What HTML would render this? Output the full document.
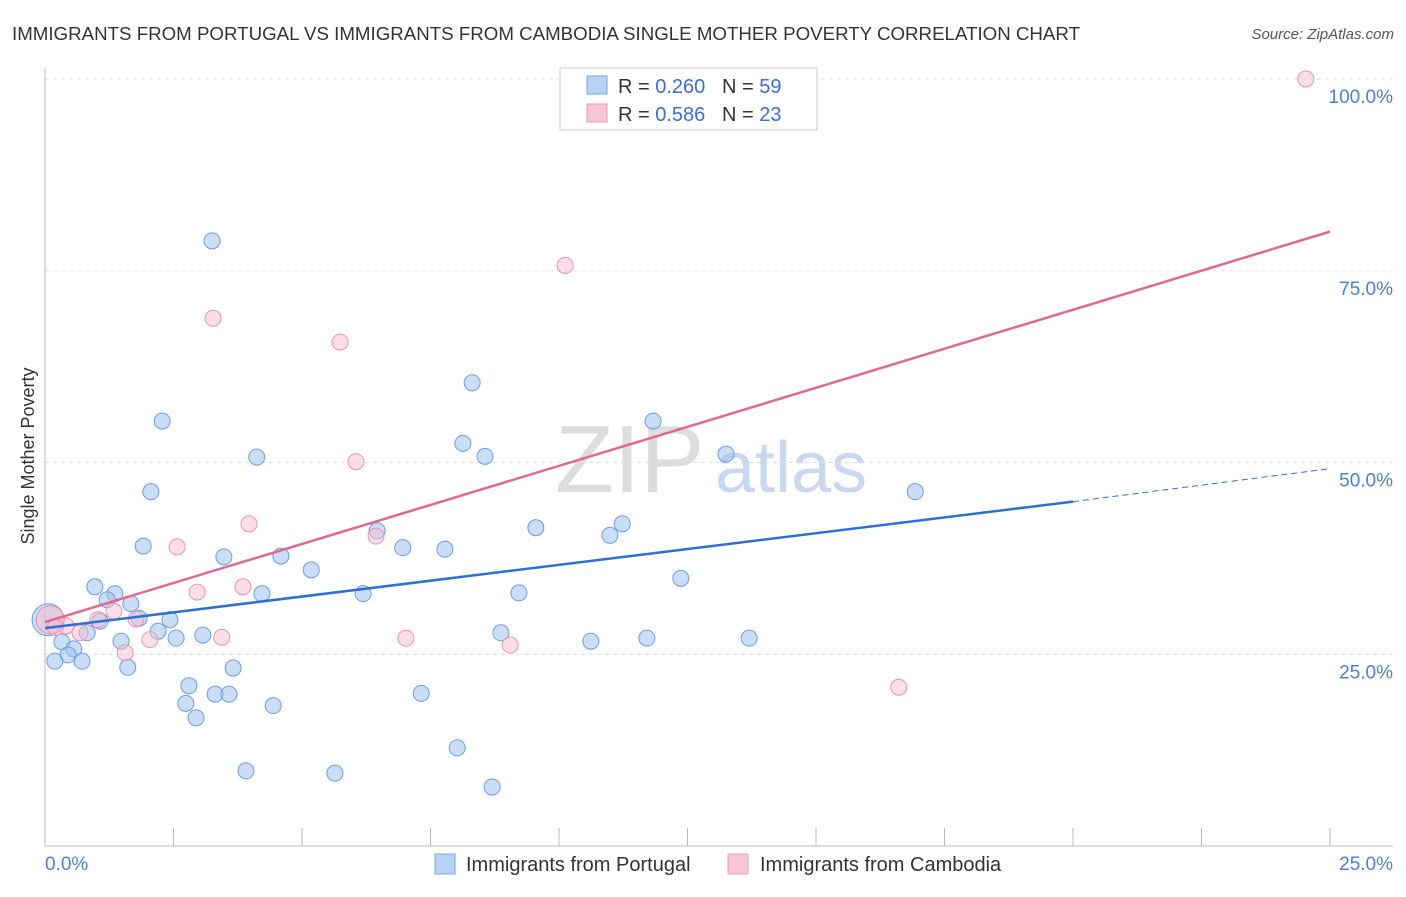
<!DOCTYPE html>
<html><head><meta charset="utf-8"><style>
body{margin:0;background:#fff;font-family:"Liberation Sans",sans-serif;}
svg text{font-family:"Liberation Sans",sans-serif;}
</style></head><body>
<svg id="chart" width="1406" height="892">
<text x="12" y="40" font-size="18" fill="#333" textLength="1068" lengthAdjust="spacingAndGlyphs">IMMIGRANTS FROM PORTUGAL VS IMMIGRANTS FROM CAMBODIA SINGLE MOTHER POVERTY CORRELATION CHART</text>
<text x="1394" y="39" font-size="15" fill="#555" font-style="italic" text-anchor="end">Source: ZipAtlas.com</text>
<text x="34" y="456" font-size="18" fill="#333" transform="rotate(-90 34 456)" text-anchor="middle">Single Mother Poverty</text>
<text x="555" y="492" font-size="96" fill="#ddd" font-family="Liberation Serif">ZIP</text>
<text x="715" y="492" font-size="72" fill="#c8d8f0">atlas</text>
<g id="grid"></g><g id="axes"></g><g id="marks"></g>
<g>
<rect x="560" y="68" width="257" height="62" fill="#fff" stroke="#ccc"/>
<rect x="587" y="76" width="20" height="18" fill="#b8d2f5" stroke="#7aa5e0"/>
<rect x="587" y="104" width="20" height="18" fill="#f9c6d6" stroke="#e99ab3"/>
<text x="618" y="93" font-size="20" fill="#333">R = <tspan fill="#3a6fd0">0.260</tspan>&#160;&#160;&#160;N = <tspan fill="#3a6fd0">59</tspan></text>
<text x="618" y="121" font-size="20" fill="#333">R = <tspan fill="#3a6fd0">0.586</tspan>&#160;&#160;&#160;N = <tspan fill="#3a6fd0">23</tspan></text>
</g>
<g>
<rect x="435" y="854" width="20" height="20" fill="#b8d2f5" stroke="#7aa5e0"/>
<text x="466" y="871" font-size="20" fill="#333">Immigrants from Portugal</text>
<rect x="728" y="854" width="20" height="20" fill="#f9c6d6" stroke="#e99ab3"/>
<text x="760" y="871" font-size="20" fill="#333">Immigrants from Cambodia</text>
</g>
</svg>
<script>
const blueX=[3.25,2.28,8.31,8.13,8.56,11.83,13.25,16.93,2.06,4.12,1.91,3.48,4.59,5.18,6.46,6.96,7.78,9.55,10.99,11.23,12.37,9.22,6.19,4.22,0.97,1.36,1.21,1.67,1.83,2.43,1.07,0.82,2.20,2.55,3.07,1.48,0.33,0.56,0.45,0.72,0.19,1.61,3.66,2.80,2.74,3.31,3.58,4.44,2.94,7.32,8.87,10.62,11.71,13.70,8.02,3.91,5.64,8.70,0.06];
const blueY=[78.9,55.4,60.4,52.5,50.8,55.4,51.1,46.2,46.2,50.7,39.1,37.7,37.8,36.0,41.1,38.9,38.7,41.5,40.5,42.0,34.9,33.0,32.9,32.9,33.8,32.9,32.1,31.6,29.7,29.5,29.3,27.8,28.0,27.1,27.5,26.7,26.6,25.7,24.9,24.1,24.1,23.3,23.2,20.9,18.6,19.8,19.8,18.3,16.7,19.9,27.8,26.7,27.1,27.1,12.8,9.8,9.5,7.7,29.5];
const pinkX=[24.53,10.12,3.27,5.74,6.05,3.97,2.57,6.44,3.85,2.96,1.34,1.03,0.41,0.68,1.77,2.04,3.44,7.02,9.05,1.56,16.61,0.1,0.2];
const pinkY=[100.0,75.7,68.8,65.7,50.1,42.0,39.0,40.4,33.8,33.1,30.6,29.5,28.7,27.8,29.6,26.9,27.2,27.1,26.2,25.2,20.7,29.5,28.5];
const yTicks=[25,50,75,100];
const yTickLabels=["25.0%","50.0%","75.0%","100.0%"];
const blueTrend=[28.4,44.9]; // at x=0 and x=20
const blueTrendEnd=49.2; // at x=25
const pinkTrend=[29.2,80.1]; // at x=0 and x=25
const ns="http://www.w3.org/2000/svg";
const X=v=>45+v*51.4, Y=v=>846-v*7.67;
function mk(p,tag,a){const e=document.createElementNS(ns,tag);for(const k in a)e.setAttribute(k,a[k]);p.appendChild(e);return e;}
const grid=document.getElementById('grid'),axes=document.getElementById('axes'),marks=document.getElementById('marks');
yTicks.forEach((t,i)=>{
 const l=mk(grid,'line',{x1:45,x2:1393,y1:Y(t),y2:Y(t),stroke:'#ddd','stroke-dasharray':'4,4'});
 
 
 const tx=mk(axes,'text',{x:1393,y:Y(t)+24,'font-size':19,fill:'#4a7fd8','text-anchor':'end'});
 tx.textContent=yTickLabels[i];
 
 
});
mk(axes,'line',{x1:45,x2:45,y1:68,y2:846,stroke:'#bbb'});
mk(axes,'line',{x1:45,x2:1393,y1:846,y2:846,stroke:'#bbb'});
for(let i=0;i<=10;i++){mk(axes,'line',{x1:X(i*2.5),x2:X(i*2.5),y1:828,y2:846,stroke:'#bbb'});}
let t0=mk(axes,'text',{x:45,y:870,'font-size':19,fill:'#4a7fd8'});t0.textContent='0.0%';


let t1=mk(axes,'text',{x:1393,y:870,'font-size':19,fill:'#4a7fd8','text-anchor':'end'});t1.textContent='25.0%';


blueX.forEach((x,i)=>{const r=i==blueX.length-1?16:8;const c=mk(marks,'circle',{cx:X(x),cy:Y(blueY[i]),r:r,fill:'rgba(160,195,240,0.55)',stroke:'#6d9de0','stroke-width':1});
 
 });
pinkX.forEach((x,i)=>{const r=i==pinkX.length-2?14:8;const c=mk(marks,'circle',{cx:X(x),cy:Y(pinkY[i]),r:r,fill:'rgba(248,190,210,0.5)',stroke:'#e893b0','stroke-width':1});
 
 });
const bl=mk(marks,'line',{x1:X(0),y1:Y(blueTrend[0]),x2:X(20),y2:Y(blueTrend[1]),stroke:'#2e6fd6','stroke-width':2.5});


const bd=mk(marks,'line',{x1:X(20),y1:Y(blueTrend[1]),x2:X(25),y2:Y(blueTrendEnd),stroke:'#2e6fd6','stroke-width':1,'stroke-dasharray':'6,4'});


const pl=mk(marks,'line',{x1:X(0),y1:Y(pinkTrend[0]),x2:X(25),y2:Y(pinkTrend[1]),stroke:'#e06892','stroke-width':2.5});


</script>
</body></html>
